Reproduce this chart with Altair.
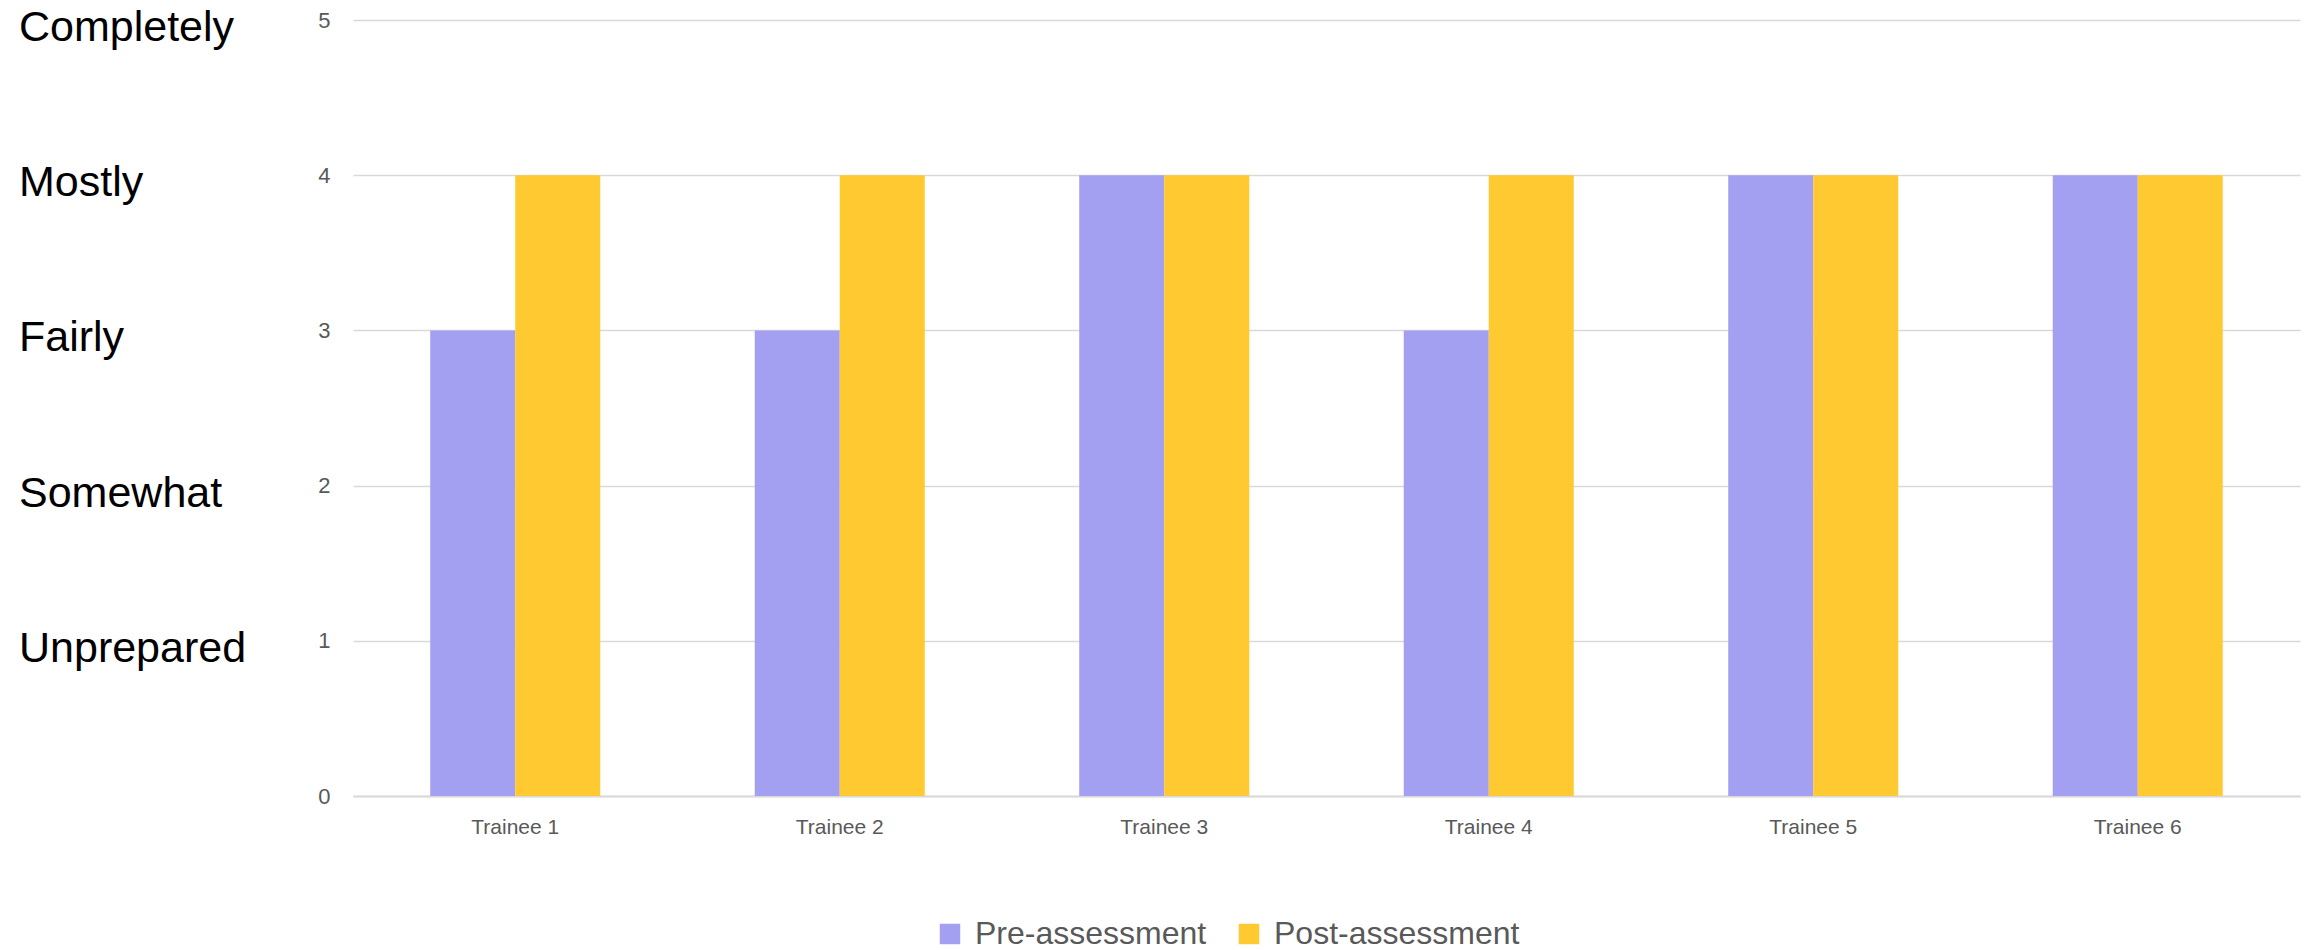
import altair as alt
import pandas as pd

trainees = ["Trainee 1", "Trainee 2", "Trainee 3", "Trainee 4", "Trainee 5", "Trainee 6"]
pre_assessment = [3, 3, 4, 3, 4, 4]
post_assessment = [4, 4, 4, 4, 4, 4]
series_names = ["Pre-assessment", "Post-assessment"]
series_colors = ["#A39FF1", "#FFC931"]
y_ticks = [0, 1, 2, 3, 4, 5]
level_labels = ["Completely", "Mostly", "Fairly", "Somewhat", "Unprepared"]
level_values = [5, 4, 3, 2, 1]

rows = []
for t, a, b in zip(trainees, pre_assessment, post_assessment):
    rows.append({"trainee": t, "series": series_names[0], "value": a})
    rows.append({"trainee": t, "series": series_names[1], "value": b})
df = pd.DataFrame(rows)
levels_df = pd.DataFrame({"label": level_labels, "level": level_values})

FONT = "Liberation Sans"

bars = alt.Chart(df).mark_bar().encode(
    x=alt.X(
        "trainee:N",
        sort=trainees,
        title=None,
        scale=alt.Scale(paddingInner=0.476, paddingOuter=0.238),
        axis=alt.Axis(
            labelAngle=0,
            labelFontSize=21,
            labelColor="#595959",
            labelFont=FONT,
            labelPadding=20,
            ticks=False,
            domain=True,
            domainColor="#D9D9D9",
            domainWidth=2,
            grid=False,
        ),
    ),
    xOffset=alt.XOffset("series:N", sort=series_names),
    y=alt.Y(
        "value:Q",
        title=None,
        scale=alt.Scale(domain=[0, 5], nice=False),
        axis=alt.Axis(
            values=y_ticks,
            format="d",
            labelFontSize=22,
            labelColor="#595959",
            labelFont=FONT,
            labelPadding=23,
            ticks=False,
            domain=False,
            grid=True,
            gridColor="#D9D9D9",
            gridWidth=1.5,
        ),
    ),
    color=alt.Color(
        "series:N",
        scale=alt.Scale(domain=series_names, range=series_colors),
        legend=alt.Legend(
            title=None,
            orient="none",
            direction="horizontal",
            legendX=581,
            legendY=898,
            symbolType="square",
            symbolSize=420,
            symbolStrokeWidth=0,
            labelFontSize=32,
            labelFont=FONT,
            labelColor="#595959",
            labelOffset=9,
            labelLimit=0,
            columnPadding=26,
        ),
    ),
)

labels = alt.Chart(levels_df).mark_text(
    align="left", baseline="alphabetic", fontSize=43, font=FONT, color="#000000", dy=21
).encode(
    x=alt.value(-334),
    y=alt.Y("level:Q"),
    text="label:N",
)

chart = (
    alt.layer(bars, labels)
    .properties(
        width=1947,
        height=776,
        autosize=alt.AutoSizeParams(type="none"),
        padding={"left": 353, "top": 20, "right": 10, "bottom": 154},
        background="white",
    )
    .configure_view(stroke=None)
)

chart.save("out.html", embed_options={"renderer": "svg", "actions": False})
